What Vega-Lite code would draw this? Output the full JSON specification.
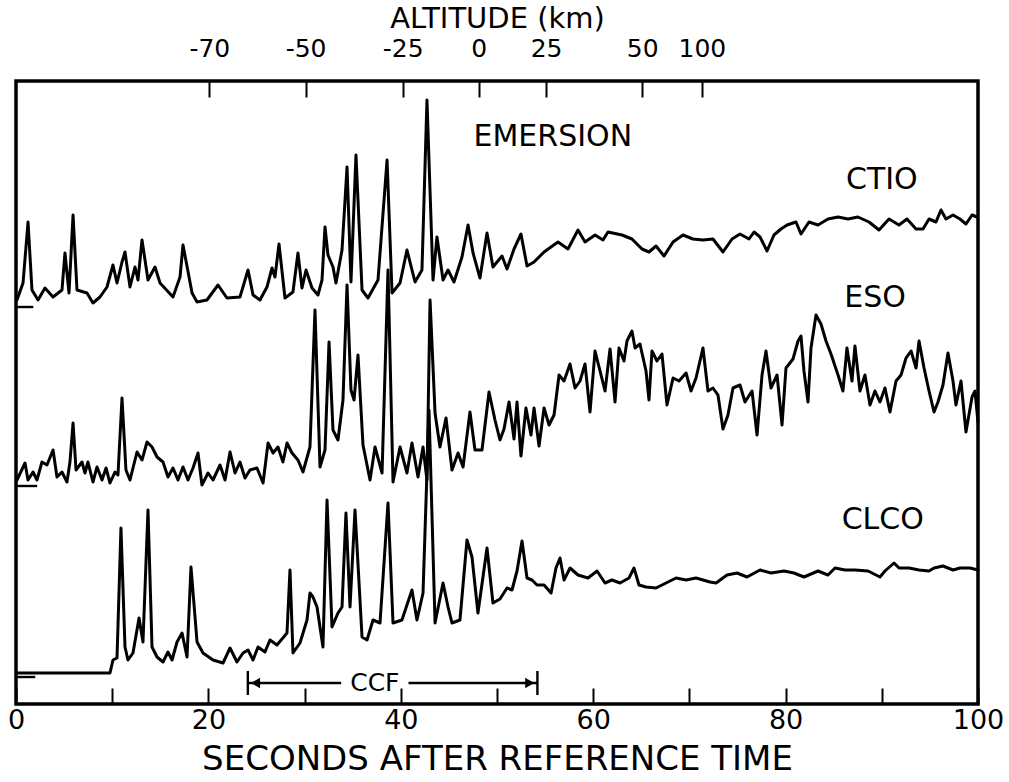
{
"$schema":"https://vega.github.io/schema/vega-lite/v6.json",
"width":962,"height":623,
"autosize":{"type":"none"},
"padding":{"left":16,"top":81,"right":31,"bottom":78},
"background":"white",
"config":{"view":{"stroke":"black","strokeWidth":3.5},"font":"DejaVu Sans"},
"datasets":{
"traces":[
{"s":"CTIO","t":0.1,"v":404},{"s":"CTIO","t":0.73,"v":421},{"s":"CTIO","t":1.25,"v":482},{"s":"CTIO","t":1.66,"v":414},{"s":"CTIO","t":2.29,"v":404},{"s":"CTIO","t":3.01,"v":416},{"s":"CTIO","t":3.85,"v":407},{"s":"CTIO","t":4.78,"v":414},{"s":"CTIO","t":5.09,"v":451},{"s":"CTIO","t":5.51,"v":411},{"s":"CTIO","t":5.93,"v":489},{"s":"CTIO","t":6.34,"v":414},{"s":"CTIO","t":7.38,"v":411},{"s":"CTIO","t":8.0,"v":401},{"s":"CTIO","t":8.73,"v":407},{"s":"CTIO","t":9.46,"v":417},{"s":"CTIO","t":10.08,"v":439},{"s":"CTIO","t":10.5,"v":421},{"s":"CTIO","t":11.02,"v":442},{"s":"CTIO","t":11.33,"v":452},{"s":"CTIO","t":11.85,"v":417},{"s":"CTIO","t":12.37,"v":437},{"s":"CTIO","t":12.68,"v":424},{"s":"CTIO","t":13.1,"v":464},{"s":"CTIO","t":13.72,"v":424},{"s":"CTIO","t":14.45,"v":437},{"s":"CTIO","t":14.97,"v":421},{"s":"CTIO","t":16.32,"v":407},{"s":"CTIO","t":17.05,"v":427},{"s":"CTIO","t":17.36,"v":459},{"s":"CTIO","t":18.3,"v":411},{"s":"CTIO","t":18.82,"v":402},{"s":"CTIO","t":19.85,"v":404},{"s":"CTIO","t":21.0,"v":419},{"s":"CTIO","t":21.93,"v":406},{"s":"CTIO","t":23.28,"v":407},{"s":"CTIO","t":24.12,"v":434},{"s":"CTIO","t":24.64,"v":409},{"s":"CTIO","t":25.36,"v":404},{"s":"CTIO","t":26.09,"v":417},{"s":"CTIO","t":26.61,"v":436},{"s":"CTIO","t":26.92,"v":427},{"s":"CTIO","t":27.34,"v":460},{"s":"CTIO","t":27.96,"v":406},{"s":"CTIO","t":28.79,"v":412},{"s":"CTIO","t":29.31,"v":451},{"s":"CTIO","t":29.73,"v":416},{"s":"CTIO","t":30.15,"v":434},{"s":"CTIO","t":30.77,"v":416},{"s":"CTIO","t":31.39,"v":409},{"s":"CTIO","t":31.81,"v":424},{"s":"CTIO","t":32.12,"v":477},{"s":"CTIO","t":32.43,"v":449},{"s":"CTIO","t":32.95,"v":437},{"s":"CTIO","t":33.26,"v":421},{"s":"CTIO","t":33.89,"v":454},{"s":"CTIO","t":34.41,"v":537},{"s":"CTIO","t":34.82,"v":422},{"s":"CTIO","t":35.34,"v":549},{"s":"CTIO","t":35.97,"v":414},{"s":"CTIO","t":36.59,"v":406},{"s":"CTIO","t":37.63,"v":424},{"s":"CTIO","t":38.57,"v":544},{"s":"CTIO","t":39.09,"v":411},{"s":"CTIO","t":39.92,"v":421},{"s":"CTIO","t":40.64,"v":454},{"s":"CTIO","t":41.48,"v":422},{"s":"CTIO","t":42.2,"v":434},{"s":"CTIO","t":42.72,"v":604},{"s":"CTIO","t":43.35,"v":424},{"s":"CTIO","t":43.76,"v":467},{"s":"CTIO","t":44.39,"v":424},{"s":"CTIO","t":44.91,"v":434},{"s":"CTIO","t":45.53,"v":422},{"s":"CTIO","t":46.36,"v":447},{"s":"CTIO","t":46.99,"v":479},{"s":"CTIO","t":47.51,"v":451},{"s":"CTIO","t":48.23,"v":426},{"s":"CTIO","t":48.96,"v":471},{"s":"CTIO","t":49.58,"v":437},{"s":"CTIO","t":50.52,"v":448},{"s":"CTIO","t":51.04,"v":435},{"s":"CTIO","t":51.77,"v":455},{"s":"CTIO","t":52.49,"v":470},{"s":"CTIO","t":53.12,"v":438},{"s":"CTIO","t":53.85,"v":442},{"s":"CTIO","t":54.89,"v":452},{"s":"CTIO","t":56.34,"v":462},{"s":"CTIO","t":57.38,"v":455},{"s":"CTIO","t":58.42,"v":474},{"s":"CTIO","t":59.15,"v":462},{"s":"CTIO","t":60.19,"v":469},{"s":"CTIO","t":61.02,"v":464},{"s":"CTIO","t":61.54,"v":472},{"s":"CTIO","t":62.99,"v":469},{"s":"CTIO","t":64.03,"v":465},{"s":"CTIO","t":65.07,"v":455},{"s":"CTIO","t":65.8,"v":452},{"s":"CTIO","t":66.53,"v":458},{"s":"CTIO","t":67.36,"v":448},{"s":"CTIO","t":68.3,"v":462},{"s":"CTIO","t":69.33,"v":469},{"s":"CTIO","t":70.37,"v":465},{"s":"CTIO","t":71.41,"v":464},{"s":"CTIO","t":72.45,"v":465},{"s":"CTIO","t":73.49,"v":452},{"s":"CTIO","t":74.43,"v":465},{"s":"CTIO","t":75.26,"v":470},{"s":"CTIO","t":76.2,"v":465},{"s":"CTIO","t":76.72,"v":472},{"s":"CTIO","t":77.34,"v":467},{"s":"CTIO","t":78.07,"v":453},{"s":"CTIO","t":78.79,"v":469},{"s":"CTIO","t":79.52,"v":475},{"s":"CTIO","t":80.15,"v":479},{"s":"CTIO","t":81.08,"v":482},{"s":"CTIO","t":81.6,"v":470},{"s":"CTIO","t":82.43,"v":482},{"s":"CTIO","t":83.37,"v":479},{"s":"CTIO","t":84.41,"v":485},{"s":"CTIO","t":85.45,"v":487},{"s":"CTIO","t":86.49,"v":485},{"s":"CTIO","t":87.52,"v":487},{"s":"CTIO","t":88.67,"v":482},{"s":"CTIO","t":89.71,"v":474},{"s":"CTIO","t":90.75,"v":485},{"s":"CTIO","t":91.79,"v":479},{"s":"CTIO","t":92.62,"v":485},{"s":"CTIO","t":93.56,"v":475},{"s":"CTIO","t":94.28,"v":475},{"s":"CTIO","t":94.91,"v":485},{"s":"CTIO","t":95.63,"v":482},{"s":"CTIO","t":96.15,"v":494},{"s":"CTIO","t":96.67,"v":485},{"s":"CTIO","t":97.4,"v":489},{"s":"CTIO","t":98.13,"v":485},{"s":"CTIO","t":98.75,"v":480},{"s":"CTIO","t":99.38,"v":489},{"s":"CTIO","t":99.9,"v":487},
{"s":"ESO","t":0.1,"v":224},{"s":"ESO","t":0.94,"v":241},{"s":"ESO","t":1.25,"v":224},{"s":"ESO","t":1.77,"v":232},{"s":"ESO","t":2.18,"v":224},{"s":"ESO","t":2.7,"v":242},{"s":"ESO","t":3.22,"v":239},{"s":"ESO","t":3.85,"v":254},{"s":"ESO","t":4.26,"v":227},{"s":"ESO","t":4.78,"v":232},{"s":"ESO","t":5.3,"v":222},{"s":"ESO","t":5.61,"v":242},{"s":"ESO","t":5.93,"v":281},{"s":"ESO","t":6.24,"v":234},{"s":"ESO","t":6.86,"v":242},{"s":"ESO","t":7.17,"v":231},{"s":"ESO","t":7.48,"v":242},{"s":"ESO","t":8.0,"v":222},{"s":"ESO","t":8.42,"v":237},{"s":"ESO","t":8.94,"v":224},{"s":"ESO","t":9.36,"v":236},{"s":"ESO","t":9.77,"v":221},{"s":"ESO","t":10.29,"v":232},{"s":"ESO","t":10.6,"v":229},{"s":"ESO","t":11.02,"v":306},{"s":"ESO","t":11.43,"v":234},{"s":"ESO","t":11.85,"v":224},{"s":"ESO","t":12.58,"v":252},{"s":"ESO","t":13.1,"v":244},{"s":"ESO","t":13.62,"v":262},{"s":"ESO","t":14.14,"v":257},{"s":"ESO","t":14.66,"v":247},{"s":"ESO","t":15.28,"v":242},{"s":"ESO","t":15.8,"v":227},{"s":"ESO","t":16.32,"v":236},{"s":"ESO","t":16.84,"v":224},{"s":"ESO","t":17.36,"v":237},{"s":"ESO","t":17.88,"v":224},{"s":"ESO","t":18.4,"v":236},{"s":"ESO","t":18.92,"v":251},{"s":"ESO","t":19.33,"v":219},{"s":"ESO","t":19.96,"v":231},{"s":"ESO","t":20.48,"v":224},{"s":"ESO","t":21.21,"v":239},{"s":"ESO","t":21.73,"v":224},{"s":"ESO","t":22.25,"v":252},{"s":"ESO","t":22.77,"v":231},{"s":"ESO","t":23.28,"v":242},{"s":"ESO","t":23.8,"v":226},{"s":"ESO","t":24.32,"v":234},{"s":"ESO","t":25.05,"v":236},{"s":"ESO","t":25.68,"v":221},{"s":"ESO","t":26.2,"v":261},{"s":"ESO","t":26.72,"v":251},{"s":"ESO","t":27.23,"v":257},{"s":"ESO","t":27.75,"v":242},{"s":"ESO","t":28.17,"v":261},{"s":"ESO","t":28.69,"v":251},{"s":"ESO","t":29.31,"v":244},{"s":"ESO","t":29.83,"v":232},{"s":"ESO","t":30.56,"v":257},{"s":"ESO","t":31.08,"v":394},{"s":"ESO","t":31.6,"v":237},{"s":"ESO","t":32.12,"v":254},{"s":"ESO","t":32.54,"v":362},{"s":"ESO","t":32.95,"v":274},{"s":"ESO","t":33.47,"v":264},{"s":"ESO","t":33.99,"v":304},{"s":"ESO","t":34.41,"v":419},{"s":"ESO","t":34.82,"v":314},{"s":"ESO","t":35.14,"v":304},{"s":"ESO","t":35.55,"v":349},{"s":"ESO","t":36.07,"v":259},{"s":"ESO","t":36.8,"v":224},{"s":"ESO","t":37.32,"v":257},{"s":"ESO","t":38.05,"v":231},{"s":"ESO","t":38.67,"v":434},{"s":"ESO","t":39.19,"v":222},{"s":"ESO","t":39.92,"v":257},{"s":"ESO","t":40.64,"v":231},{"s":"ESO","t":41.16,"v":261},{"s":"ESO","t":41.79,"v":227},{"s":"ESO","t":42.31,"v":257},{"s":"ESO","t":42.72,"v":224},{"s":"ESO","t":43.04,"v":404},{"s":"ESO","t":43.56,"v":291},{"s":"ESO","t":44.07,"v":257},{"s":"ESO","t":44.7,"v":286},{"s":"ESO","t":45.32,"v":234},{"s":"ESO","t":45.95,"v":251},{"s":"ESO","t":46.47,"v":237},{"s":"ESO","t":47.19,"v":292},{"s":"ESO","t":47.71,"v":254},{"s":"ESO","t":48.44,"v":254},{"s":"ESO","t":49.17,"v":312},{"s":"ESO","t":49.79,"v":284},{"s":"ESO","t":50.31,"v":264},{"s":"ESO","t":50.73,"v":275},{"s":"ESO","t":51.25,"v":302},{"s":"ESO","t":51.77,"v":265},{"s":"ESO","t":52.08,"v":302},{"s":"ESO","t":52.49,"v":248},{"s":"ESO","t":53.01,"v":296},{"s":"ESO","t":53.53,"v":269},{"s":"ESO","t":53.85,"v":296},{"s":"ESO","t":54.37,"v":258},{"s":"ESO","t":54.89,"v":296},{"s":"ESO","t":55.41,"v":279},{"s":"ESO","t":55.93,"v":289},{"s":"ESO","t":56.45,"v":329},{"s":"ESO","t":56.97,"v":323},{"s":"ESO","t":57.59,"v":340},{"s":"ESO","t":58.11,"v":316},{"s":"ESO","t":58.63,"v":323},{"s":"ESO","t":59.15,"v":340},{"s":"ESO","t":59.67,"v":292},{"s":"ESO","t":60.19,"v":353},{"s":"ESO","t":60.71,"v":333},{"s":"ESO","t":61.23,"v":313},{"s":"ESO","t":61.75,"v":355},{"s":"ESO","t":62.27,"v":302},{"s":"ESO","t":62.68,"v":356},{"s":"ESO","t":63.2,"v":343},{"s":"ESO","t":63.51,"v":363},{"s":"ESO","t":64.03,"v":373},{"s":"ESO","t":64.35,"v":356},{"s":"ESO","t":64.86,"v":360},{"s":"ESO","t":65.49,"v":333},{"s":"ESO","t":65.8,"v":304},{"s":"ESO","t":66.11,"v":353},{"s":"ESO","t":66.63,"v":343},{"s":"ESO","t":67.15,"v":350},{"s":"ESO","t":67.67,"v":299},{"s":"ESO","t":68.3,"v":326},{"s":"ESO","t":68.92,"v":323},{"s":"ESO","t":69.65,"v":331},{"s":"ESO","t":70.17,"v":313},{"s":"ESO","t":70.69,"v":326},{"s":"ESO","t":71.41,"v":356},{"s":"ESO","t":71.93,"v":313},{"s":"ESO","t":72.45,"v":316},{"s":"ESO","t":72.97,"v":309},{"s":"ESO","t":73.49,"v":275},{"s":"ESO","t":74.01,"v":289},{"s":"ESO","t":74.53,"v":316},{"s":"ESO","t":75.26,"v":319},{"s":"ESO","t":75.78,"v":302},{"s":"ESO","t":76.51,"v":313},{"s":"ESO","t":77.03,"v":269},{"s":"ESO","t":77.55,"v":329},{"s":"ESO","t":77.96,"v":353},{"s":"ESO","t":78.48,"v":316},{"s":"ESO","t":79.11,"v":329},{"s":"ESO","t":79.63,"v":279},{"s":"ESO","t":80.04,"v":336},{"s":"ESO","t":80.77,"v":345},{"s":"ESO","t":81.29,"v":363},{"s":"ESO","t":81.6,"v":368},{"s":"ESO","t":81.91,"v":333},{"s":"ESO","t":82.33,"v":302},{"s":"ESO","t":82.64,"v":356},{"s":"ESO","t":83.16,"v":389},{"s":"ESO","t":83.68,"v":380},{"s":"ESO","t":84.2,"v":363},{"s":"ESO","t":84.72,"v":350},{"s":"ESO","t":85.45,"v":329},{"s":"ESO","t":85.96,"v":313},{"s":"ESO","t":86.38,"v":356},{"s":"ESO","t":86.9,"v":323},{"s":"ESO","t":87.21,"v":358},{"s":"ESO","t":87.73,"v":313},{"s":"ESO","t":88.25,"v":329},{"s":"ESO","t":88.77,"v":299},{"s":"ESO","t":89.29,"v":313},{"s":"ESO","t":89.81,"v":302},{"s":"ESO","t":90.33,"v":316},{"s":"ESO","t":90.85,"v":292},{"s":"ESO","t":91.48,"v":323},{"s":"ESO","t":92.0,"v":329},{"s":"ESO","t":92.52,"v":346},{"s":"ESO","t":93.04,"v":353},{"s":"ESO","t":93.56,"v":336},{"s":"ESO","t":93.87,"v":363},{"s":"ESO","t":94.39,"v":336},{"s":"ESO","t":94.91,"v":313},{"s":"ESO","t":95.43,"v":292},{"s":"ESO","t":95.84,"v":302},{"s":"ESO","t":96.36,"v":319},{"s":"ESO","t":96.88,"v":351},{"s":"ESO","t":97.4,"v":323},{"s":"ESO","t":97.71,"v":299},{"s":"ESO","t":98.23,"v":323},{"s":"ESO","t":98.75,"v":272},{"s":"ESO","t":99.38,"v":307},{"s":"ESO","t":99.69,"v":313},{"s":"ESO","t":100.0,"v":282},
{"s":"CLCO","t":0.1,"v":31},{"s":"CLCO","t":9.77,"v":31},{"s":"CLCO","t":10.08,"v":44},{"s":"CLCO","t":10.5,"v":46},{"s":"CLCO","t":10.91,"v":176},{"s":"CLCO","t":11.33,"v":57},{"s":"CLCO","t":11.64,"v":44},{"s":"CLCO","t":12.16,"v":51},{"s":"CLCO","t":12.79,"v":86},{"s":"CLCO","t":13.2,"v":62},{"s":"CLCO","t":13.72,"v":194},{"s":"CLCO","t":14.14,"v":57},{"s":"CLCO","t":14.66,"v":47},{"s":"CLCO","t":15.28,"v":42},{"s":"CLCO","t":15.8,"v":52},{"s":"CLCO","t":16.22,"v":44},{"s":"CLCO","t":16.74,"v":62},{"s":"CLCO","t":17.26,"v":71},{"s":"CLCO","t":17.78,"v":47},{"s":"CLCO","t":18.19,"v":137},{"s":"CLCO","t":18.82,"v":62},{"s":"CLCO","t":19.44,"v":51},{"s":"CLCO","t":20.48,"v":44},{"s":"CLCO","t":21.52,"v":41},{"s":"CLCO","t":22.25,"v":56},{"s":"CLCO","t":22.97,"v":42},{"s":"CLCO","t":23.6,"v":51},{"s":"CLCO","t":24.12,"v":54},{"s":"CLCO","t":24.64,"v":44},{"s":"CLCO","t":25.16,"v":57},{"s":"CLCO","t":25.88,"v":52},{"s":"CLCO","t":26.4,"v":64},{"s":"CLCO","t":27.13,"v":59},{"s":"CLCO","t":28.17,"v":71},{"s":"CLCO","t":28.48,"v":134},{"s":"CLCO","t":28.79,"v":51},{"s":"CLCO","t":29.52,"v":61},{"s":"CLCO","t":30.25,"v":84},{"s":"CLCO","t":30.56,"v":111},{"s":"CLCO","t":30.87,"v":107},{"s":"CLCO","t":31.29,"v":97},{"s":"CLCO","t":31.91,"v":57},{"s":"CLCO","t":32.33,"v":204},{"s":"CLCO","t":32.85,"v":77},{"s":"CLCO","t":33.47,"v":91},{"s":"CLCO","t":33.89,"v":97},{"s":"CLCO","t":34.3,"v":191},{"s":"CLCO","t":34.72,"v":97},{"s":"CLCO","t":35.24,"v":194},{"s":"CLCO","t":35.97,"v":67},{"s":"CLCO","t":36.49,"v":64},{"s":"CLCO","t":37.11,"v":84},{"s":"CLCO","t":37.84,"v":81},{"s":"CLCO","t":38.67,"v":201},{"s":"CLCO","t":39.19,"v":81},{"s":"CLCO","t":40.12,"v":84},{"s":"CLCO","t":41.16,"v":114},{"s":"CLCO","t":41.68,"v":84},{"s":"CLCO","t":42.31,"v":111},{"s":"CLCO","t":42.93,"v":294},{"s":"CLCO","t":43.56,"v":81},{"s":"CLCO","t":44.39,"v":121},{"s":"CLCO","t":44.91,"v":97},{"s":"CLCO","t":45.32,"v":81},{"s":"CLCO","t":46.15,"v":84},{"s":"CLCO","t":46.88,"v":164},{"s":"CLCO","t":47.4,"v":147},{"s":"CLCO","t":48.02,"v":91},{"s":"CLCO","t":48.96,"v":156},{"s":"CLCO","t":49.58,"v":101},{"s":"CLCO","t":50.31,"v":105},{"s":"CLCO","t":51.04,"v":116},{"s":"CLCO","t":51.56,"v":114},{"s":"CLCO","t":52.08,"v":133},{"s":"CLCO","t":52.6,"v":163},{"s":"CLCO","t":53.12,"v":126},{"s":"CLCO","t":53.64,"v":124},{"s":"CLCO","t":54.16,"v":119},{"s":"CLCO","t":54.89,"v":119},{"s":"CLCO","t":55.62,"v":111},{"s":"CLCO","t":56.13,"v":136},{"s":"CLCO","t":56.55,"v":146},{"s":"CLCO","t":56.97,"v":124},{"s":"CLCO","t":57.59,"v":136},{"s":"CLCO","t":58.42,"v":129},{"s":"CLCO","t":59.46,"v":126},{"s":"CLCO","t":60.4,"v":133},{"s":"CLCO","t":61.23,"v":121},{"s":"CLCO","t":61.95,"v":124},{"s":"CLCO","t":62.79,"v":121},{"s":"CLCO","t":63.72,"v":126},{"s":"CLCO","t":64.24,"v":136},{"s":"CLCO","t":64.76,"v":119},{"s":"CLCO","t":65.49,"v":117},{"s":"CLCO","t":66.53,"v":116},{"s":"CLCO","t":67.57,"v":121},{"s":"CLCO","t":68.61,"v":126},{"s":"CLCO","t":69.65,"v":124},{"s":"CLCO","t":70.69,"v":126},{"s":"CLCO","t":72.14,"v":122},{"s":"CLCO","t":72.77,"v":121},{"s":"CLCO","t":73.91,"v":129},{"s":"CLCO","t":74.95,"v":131},{"s":"CLCO","t":75.99,"v":127},{"s":"CLCO","t":77.34,"v":134},{"s":"CLCO","t":78.48,"v":131},{"s":"CLCO","t":79.83,"v":133},{"s":"CLCO","t":80.87,"v":131},{"s":"CLCO","t":81.91,"v":127},{"s":"CLCO","t":83.37,"v":133},{"s":"CLCO","t":84.41,"v":129},{"s":"CLCO","t":85.14,"v":136},{"s":"CLCO","t":86.18,"v":134},{"s":"CLCO","t":87.21,"v":134},{"s":"CLCO","t":88.57,"v":133},{"s":"CLCO","t":89.81,"v":127},{"s":"CLCO","t":90.33,"v":133},{"s":"CLCO","t":91.27,"v":141},{"s":"CLCO","t":91.79,"v":136},{"s":"CLCO","t":92.83,"v":136},{"s":"CLCO","t":93.87,"v":134},{"s":"CLCO","t":94.91,"v":133},{"s":"CLCO","t":95.43,"v":136},{"s":"CLCO","t":96.36,"v":138},{"s":"CLCO","t":97.4,"v":134},{"s":"CLCO","t":98.13,"v":136},{"s":"CLCO","t":99.17,"v":136},{"s":"CLCO","t":100.0,"v":134}
],
"labels":[
{"t":55.8,"v":567,"label":"EMERSION"},
{"t":90.0,"v":524,"label":"CTIO"},
{"t":89.3,"v":406,"label":"ESO"},
{"t":90.1,"v":184,"label":"CLCO"}
],
"segments":[
{"x1":24.1,"x2":24.1,"y1":9,"y2":33},
{"x1":54.2,"x2":54.2,"y1":9,"y2":33},
{"x1":24.1,"x2":33.8,"y1":21,"y2":21},
{"x1":40.8,"x2":54.2,"y1":21,"y2":21},
{"x1":0,"x2":1.8,"y1":397,"y2":397},
{"x1":0,"x2":2.2,"y1":218,"y2":218},
{"x1":0,"x2":2.0,"y1":27,"y2":27}
],
"heads":[
{"t":24.9,"v":21,"dir":"L"},
{"t":53.4,"v":21,"dir":"R"}
],
"ccf":[{"t":37.3,"v":21,"label":"CCF"}]
},
"resolve":{"axis":{"x":"independent"}},
"layer":[
{
"data":{"name":"traces"},
"mark":{"type":"line","color":"black","strokeWidth":3,"strokeJoin":"round","strokeCap":"round"},
"encoding":{
"x":{"field":"t","type":"quantitative","scale":{"domain":[0,100],"nice":false,"zero":false},
"axis":{"orient":"bottom","values":[0,10,20,30,40,50,60,70,80,90,100],"labelExpr":"datum.value % 20 === 0 ? datum.label : ''","domain":false,"grid":false,"tickSize":-16,"tickWidth":2,"tickColor":"black","labelFont":"DejaVu Sans","labelFontSize":27,"labelColor":"black","labelPadding":19,"labelFlush":false,"labelOverlap":false,"title":"SECONDS AFTER  REFERENCE TIME","titleFont":"DejaVu Sans","titleFontSize":34,"titleFontWeight":"normal","titleColor":"black","titlePadding":9}},
"y":{"field":"v","type":"quantitative","scale":{"domain":[0,623],"nice":false,"zero":false},"axis":null},
"detail":{"field":"s"}
}
},
{
"data":{"name":"labels"},
"mark":{"type":"text","font":"DejaVu Sans","fontSize":30,"letterSpacing":3.5,"align":"center","baseline":"middle","color":"black"},
"encoding":{
"x":{"field":"t","type":"quantitative","scale":{"domain":[0,100],"nice":false,"zero":false},
"axis":{"orient":"top","values":[20.1,30.1,40.2,48.1,55.1,65.1,71.3],"labelExpr":"datum.value < 25 ? '-70' : datum.value < 35 ? '-50' : datum.value < 45 ? '-25' : datum.value < 50 ? '0' : datum.value < 60 ? '25' : datum.value < 68 ? '50' : '100'","domain":false,"grid":false,"tickSize":-16,"tickWidth":2,"tickColor":"black","labelFont":"DejaVu Sans","labelFontSize":25,"labelColor":"black","labelPadding":36,"labelFlush":false,"labelOverlap":false,"title":"ALTITUDE (km)","titleFont":"DejaVu Sans","titleFontSize":29,"titleFontWeight":"normal","titleColor":"black","titlePadding":3}},
"y":{"field":"v","type":"quantitative","axis":null},
"text":{"field":"label"}
}
},
{
"data":{"name":"segments"},
"mark":{"type":"rule","color":"black","strokeWidth":2.4},
"encoding":{
"x":{"field":"x1","type":"quantitative","axis":null},
"x2":{"field":"x2"},
"y":{"field":"y1","type":"quantitative","axis":null},
"y2":{"field":"y2"}
}
},
{
"data":{"name":"heads"},
"mark":{"type":"point","filled":true,"color":"black","size":110,"opacity":1},
"encoding":{
"x":{"field":"t","type":"quantitative","axis":null},
"y":{"field":"v","type":"quantitative","axis":null},
"shape":{"field":"dir","type":"nominal","scale":{"domain":["L","R"],"range":["triangle-left","triangle-right"]},"legend":null}
}
},
{
"data":{"name":"ccf"},
"mark":{"type":"text","font":"DejaVu Sans","fontSize":25,"align":"center","baseline":"middle","color":"black"},
"encoding":{
"x":{"field":"t","type":"quantitative","axis":null},
"y":{"field":"v","type":"quantitative","axis":null},
"text":{"field":"label"}
}
}
]
}
